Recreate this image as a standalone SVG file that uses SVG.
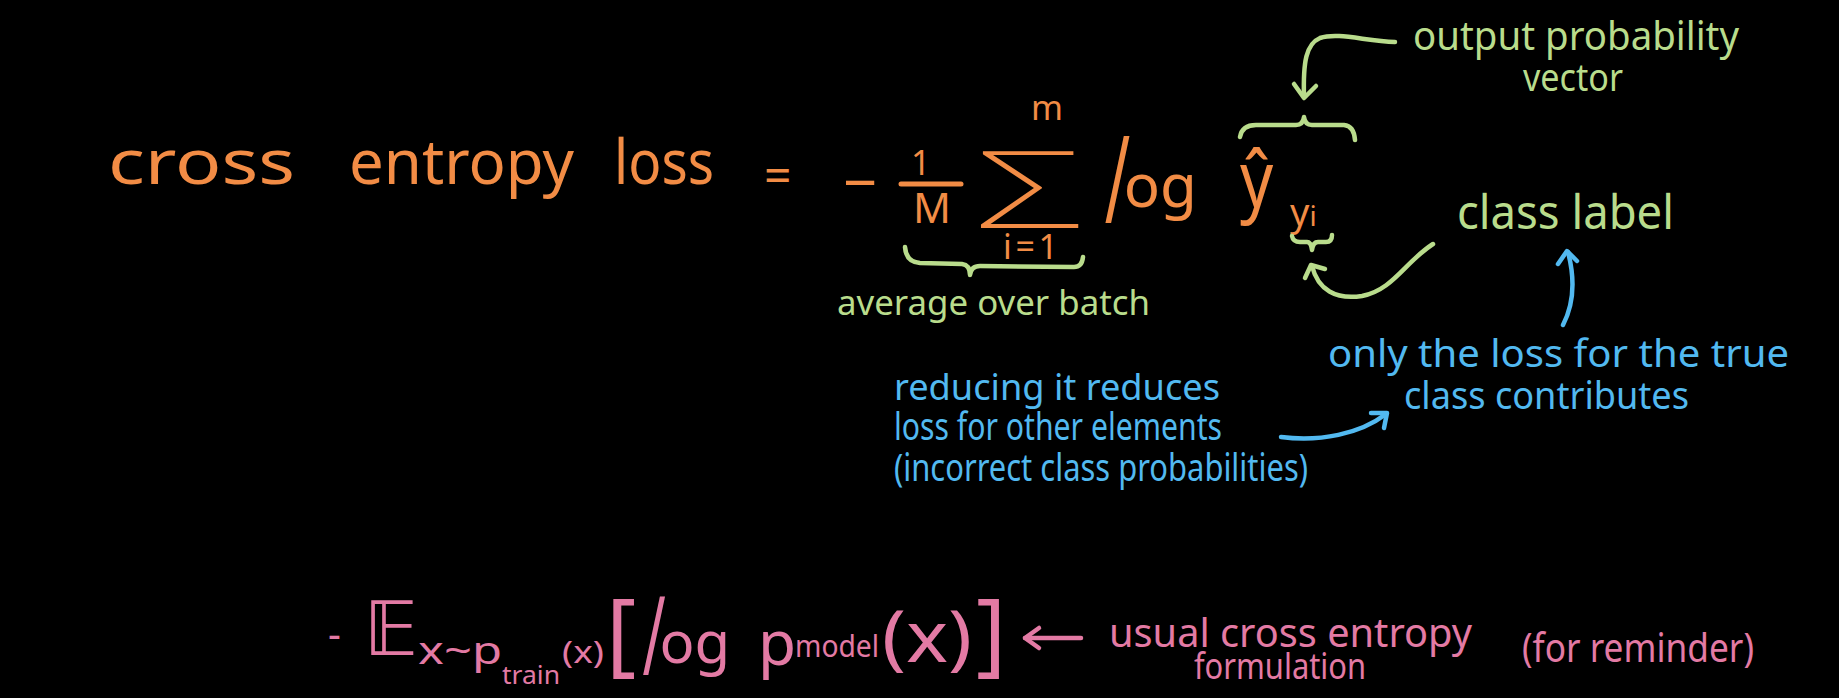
<svg xmlns="http://www.w3.org/2000/svg" width="1839" height="698" viewBox="0 0 1839 698">
<style>
text{font-family:"Noto Sans","Open Sans","DejaVu Sans",sans-serif;}
.o{fill:#F28C45;}
.g{fill:#B9DC8C;}
.b{fill:#52B9F0;}
.p{fill:#E37AA4;}
.el{font-family:"Open Sans","Noto Sans",sans-serif;font-weight:300;font-style:italic;}
.so{stroke:#F28C45;fill:none;stroke-width:5;stroke-linecap:round;stroke-linejoin:round;}
.sg{stroke:#B9DC8C;fill:none;stroke-width:4.5;stroke-linecap:round;stroke-linejoin:round;}
.sb{stroke:#52B9F0;fill:none;stroke-width:4.5;stroke-linecap:round;stroke-linejoin:round;}
.sp{stroke:#E37AA4;fill:none;stroke-width:4.5;stroke-linecap:round;stroke-linejoin:round;}
</style>
<rect width="1839" height="698" fill="#000"/>

<g id="main-equation">
<text class="o" x="108" y="184" font-size="62" textLength="187" lengthAdjust="spacingAndGlyphs">cross</text>
<text class="o" x="349" y="184" font-size="62" textLength="225" lengthAdjust="spacingAndGlyphs">entropy</text>
<text class="o" x="614" y="184" font-size="62" textLength="100" lengthAdjust="spacingAndGlyphs">loss</text>
<text class="o" x="764" y="192" font-size="48">=</text>
<text class="o" x="843" y="204" font-size="60">−</text>
<text class="o" x="911" y="175" font-size="34">1</text>
<line class="so" x1="901" y1="184" x2="961" y2="184"/>
<text class="o" x="913" y="223" font-size="42" textLength="38" lengthAdjust="spacingAndGlyphs">M</text>
<text class="o" x="974" y="228" font-size="108" font-family="DejaVu Sans" font-weight="200" textLength="112" lengthAdjust="spacingAndGlyphs">Σ</text>
<text class="o" x="1031" y="120" font-size="34" textLength="32" lengthAdjust="spacingAndGlyphs">m</text>
<text class="o" x="1003" y="259" font-size="34" textLength="55" lengthAdjust="spacing">i=1</text>
<text class="o" x="1102" y="207" font-size="60"><tspan class="el" font-size="114" dy="16">l</tspan><tspan dx="-4" dy="-16">og</tspan></text>
<text class="o" transform="translate(1240,207) scale(1.05,1.28)" x="0" y="0" font-size="62">ŷ</text>
<text class="o" x="1290" y="226" font-size="38">y<tspan font-size="28">i</tspan></text>
</g>

<g id="label-output">
<text class="g" x="1413" y="50" font-size="40" textLength="326" lengthAdjust="spacingAndGlyphs">output probability</text>
<text class="g" x="1523" y="91" font-size="38" textLength="100" lengthAdjust="spacingAndGlyphs">vector</text>
</g>
<g id="label-class">
<text class="g" x="1457" y="229" font-size="47" textLength="217" lengthAdjust="spacingAndGlyphs">class label</text>
</g>
<g id="label-average">
<text class="g" x="837" y="315" font-size="35" textLength="313" lengthAdjust="spacingAndGlyphs">average over batch</text>
</g>
<g id="note-true-class">
<text class="b" x="1328" y="367" font-size="38" textLength="461" lengthAdjust="spacingAndGlyphs">only the loss for the true</text>
<text class="b" x="1404" y="409" font-size="38" textLength="285" lengthAdjust="spacingAndGlyphs">class contributes</text>
</g>
<g id="note-reducing">
<text class="b" x="894" y="400" font-size="37" textLength="326" lengthAdjust="spacingAndGlyphs">reducing it reduces</text>
<text class="b" x="894" y="440" font-size="38" textLength="328" lengthAdjust="spacingAndGlyphs">loss for other elements</text>
<text class="b" x="894" y="481" font-size="38" textLength="414" lengthAdjust="spacingAndGlyphs">(incorrect class probabilities)</text>
</g>

<g id="reminder-equation">
<text class="p" x="328" y="648" font-size="40">-</text>
<text class="p" x="364" y="655" font-size="74" font-family="DejaVu Sans">𝔼</text>
<text class="p" x="418" y="664" font-size="38" textLength="84" lengthAdjust="spacingAndGlyphs">x~p</text>
<text class="p" x="502" y="684" font-size="26" textLength="58" lengthAdjust="spacingAndGlyphs">train</text>
<text class="p" x="562" y="663" font-size="30" textLength="42" lengthAdjust="spacingAndGlyphs">(x)</text>
<text class="p" x="606" y="665" font-size="92">[</text>
<text class="p" x="640" y="663" font-size="58"><tspan class="el" font-size="104" dy="12">l</tspan><tspan dx="-4" dy="-12">og</tspan></text>
<text class="p" x="758" y="665" font-size="62">p</text>
<text class="p" x="795" y="657" font-size="30" textLength="84" lengthAdjust="spacingAndGlyphs">model</text>
<text class="p" x="882" y="662" font-size="72" textLength="90" lengthAdjust="spacingAndGlyphs">(x)</text>
<text class="p" x="976" y="665" font-size="92">]</text>
</g>
<g id="note-usual">
<text class="p" x="1109" y="647" font-size="40" textLength="363" lengthAdjust="spacingAndGlyphs">usual cross entropy</text>
<text class="p" x="1194" y="679" font-size="37" textLength="172" lengthAdjust="spacingAndGlyphs">formulation</text>
</g>
<g id="note-reminder">
<text class="p" x="1522" y="662" font-size="40" textLength="232" lengthAdjust="spacingAndGlyphs">(for reminder)</text>
</g>

<g id="connectors">
<path class="sg" d="M905,247 Q906,262 920,263 L962,264 Q970,265 970,275 Q971,266 980,266 L1074,267 Q1082,267 1083,257"/>
<path class="sg" d="M1240,137 Q1242,125 1256,125 L1296,125 Q1303,125 1304,117 Q1305,125 1312,125 L1344,125 Q1354,126 1355,140"/>
<path class="sg" d="M1292,236 Q1293,242 1300,242 L1307,242 Q1311,242 1312,250 Q1313,242 1318,242 L1326,242 Q1332,242 1332,235"/>
<path class="sg" d="M1395,42 C1365,41 1338,32 1320,38 C1306,44 1303,62 1304,97"/>
<path class="sg" d="M1294,84 L1304,98 L1316,86"/>
<path class="sg" d="M1433,244 C1405,262 1393,290 1362,296 C1336,300 1318,290 1312,266"/>
<path class="sg" d="M1305,278 L1311,265 L1325,269"/>
<path class="sb" d="M1563,325 C1576,300 1574,275 1568,252"/>
<path class="sb" d="M1558,264 L1567,251 L1577,261"/>
<path class="sb" d="M1281,437 C1320,442 1360,434 1386,414"/>
<path class="sb" d="M1371,413 L1387,413 L1384,428"/>
<path class="sp" d="M1081,638 L1025,638"/>
<path class="sp" d="M1039,628 L1025,638 L1039,648"/>
</g>
</svg>
